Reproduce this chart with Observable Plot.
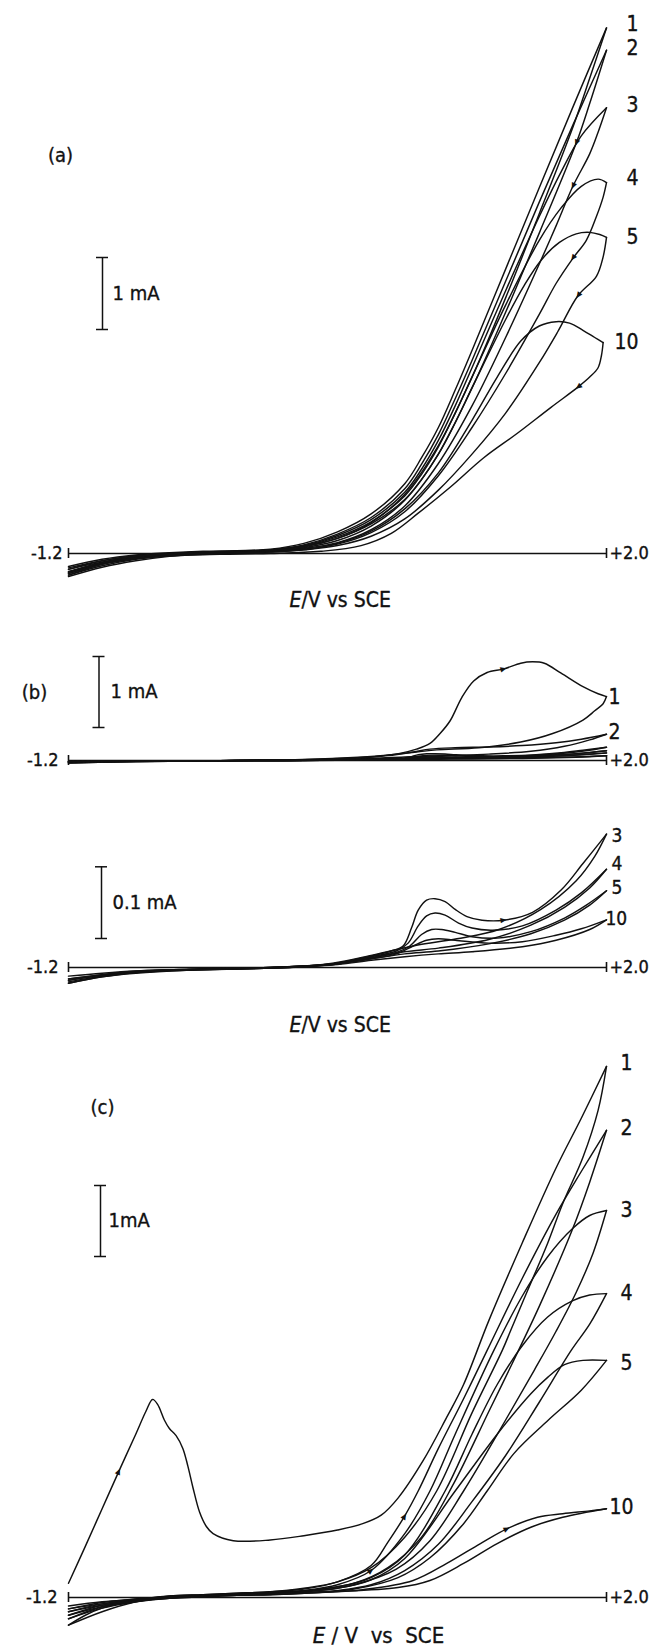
<!DOCTYPE html>
<html><head><meta charset="utf-8">
<script src="https://cdn.jsdelivr.net/npm/d3@7"></script>
<script src="https://cdn.jsdelivr.net/npm/@observablehq/plot@0.6"></script>
<style>
body{margin:0;background:#fff;}
#chart{width:652px;}
#chart svg{display:block;}
</style></head><body><div id="chart"></div>
<script>
// ---------- axis ----------
const E_MIN = -1.2, E_MAX = 2.0;
const axisTickLabels = ["-1.2", "+2.0"];
const axisTitleA = ["E", "/V vs SCE"];
const axisTitleC = ["E", " / V  vs  SCE"];

// ---------- panel (a): current / mA vs E / V ----------
const A_cycles = ["1","2","3","4","5","10"];
const A1_fwd = [[-1.2,-0.18],[-1.0,-0.08],[-0.8,-0.02],[-0.6,0.01],[-0.4,0.03],[-0.2,0.04],[0,0.06],[0.2,0.14],[0.4,0.3],[0.6,0.55],[0.8,0.97],[0.9,1.33],[1.0,1.75],[1.1,2.27],[1.2,2.82],[1.4,3.95],[1.6,5.08],[1.8,6.2],[2.0,7.3]];
const A1_rev = [[2.0,7.3],[1.9,6.6],[1.8,5.92],[1.6,4.72],[1.4,3.55],[1.2,2.45],[1.0,1.5],[0.8,0.82],[0.6,0.43],[0.4,0.21],[0.2,0.1],[0,0.05],[-0.2,0.03],[-0.4,0.01],[-0.6,-0.01],[-0.8,-0.05],[-1.0,-0.12],[-1.2,-0.22]];
const A2_fwd = [[-1.2,-0.22],[-1.0,-0.1],[-0.8,-0.03],[-0.6,0.0],[-0.4,0.02],[-0.2,0.03],[0,0.05],[0.2,0.12],[0.4,0.27],[0.6,0.5],[0.8,0.9],[0.9,1.24],[1.0,1.65],[1.1,2.15],[1.2,2.68],[1.4,3.78],[1.6,4.88],[1.8,5.95],[2.0,6.99]];
const A2_rev = [[2.0,6.99],[1.9,6.25],[1.82,5.7],[1.6,4.45],[1.4,3.35],[1.2,2.3],[1.0,1.38],[0.8,0.74],[0.6,0.38],[0.4,0.18],[0.2,0.08],[0,0.04],[-0.2,0.02],[-0.4,0.0],[-0.6,-0.02],[-0.8,-0.06],[-1.0,-0.14],[-1.2,-0.26]];
const A3_fwd = [[-1.2,-0.26],[-1.0,-0.12],[-0.8,-0.04],[-0.6,0.0],[-0.4,0.02],[-0.2,0.03],[0,0.05],[0.2,0.11],[0.4,0.25],[0.6,0.47],[0.8,0.85],[0.9,1.17],[1.0,1.57],[1.1,2.05],[1.2,2.58],[1.4,3.65],[1.6,4.68],[1.73,5.3],[1.85,5.8],[2.0,6.19]];
const A3_rev = [[2.0,6.19],[1.95,5.85],[1.9,5.55],[1.8,5.1],[1.7,4.55],[1.6,4.02],[1.4,3.0],[1.2,2.05],[1.0,1.25],[0.8,0.66],[0.6,0.33],[0.4,0.15],[0.2,0.07],[0,0.03],[-0.2,0.02],[-0.4,0.0],[-0.6,-0.02],[-0.8,-0.07],[-1.0,-0.15],[-1.2,-0.28]];
const A4_fwd = [[-1.2,-0.28],[-1.0,-0.13],[-0.8,-0.05],[-0.6,-0.01],[-0.4,0.02],[-0.2,0.03],[0,0.04],[0.2,0.1],[0.4,0.23],[0.6,0.44],[0.8,0.8],[0.9,1.1],[1.0,1.48],[1.1,1.95],[1.2,2.45],[1.4,3.45],[1.6,4.35],[1.73,4.8],[1.85,5.1],[1.95,5.2],[2.0,5.15]];
const A4_rev = [[2.0,5.15],[1.98,4.95],[1.94,4.68],[1.88,4.35],[1.8,4.1],[1.7,3.75],[1.6,3.32],[1.4,2.5],[1.2,1.75],[1.0,1.08],[0.8,0.58],[0.6,0.29],[0.4,0.13],[0.2,0.06],[0,0.03],[-0.2,0.01],[-0.4,0.0],[-0.6,-0.03],[-0.8,-0.08],[-1.0,-0.17],[-1.2,-0.3]];
const A5_fwd = [[-1.2,-0.3],[-1.0,-0.15],[-0.8,-0.06],[-0.6,-0.02],[-0.4,0.01],[-0.2,0.02],[0,0.04],[0.2,0.09],[0.4,0.21],[0.6,0.41],[0.8,0.75],[0.9,1.03],[1.0,1.38],[1.1,1.82],[1.2,2.3],[1.4,3.25],[1.51,3.72],[1.61,4.07],[1.72,4.32],[1.82,4.44],[1.9,4.46],[1.96,4.43],[2.0,4.39]];
const A5_rev = [[2.0,4.39],[1.98,4.12],[1.94,3.85],[1.83,3.58],[1.71,3.08],[1.6,2.65],[1.4,1.95],[1.2,1.38],[1.0,0.88],[0.8,0.48],[0.6,0.24],[0.4,0.11],[0.2,0.05],[0,0.02],[-0.2,0.01],[-0.4,-0.01],[-0.6,-0.04],[-0.8,-0.1],[-1.0,-0.19],[-1.2,-0.32]];
const A10_fwd = [[-1.2,-0.2],[-1.0,-0.1],[-0.8,-0.04],[-0.6,-0.01],[-0.4,0.0],[-0.2,0.01],[0,0.02],[0.2,0.05],[0.4,0.14],[0.6,0.31],[0.8,0.62],[1.0,1.12],[1.2,1.85],[1.35,2.45],[1.49,2.95],[1.6,3.16],[1.7,3.22],[1.78,3.2],[1.86,3.1],[1.93,3.0],[1.98,2.93]];
const A10_rev = [[1.98,2.93],[1.97,2.75],[1.95,2.58],[1.9,2.45],[1.83,2.31],[1.67,2.03],[1.47,1.67],[1.27,1.33],[1.07,0.92],[0.88,0.56],[0.72,0.28],[0.54,0.11],[0.3,0.03],[0,0.0],[-0.3,-0.01],[-0.6,-0.03],[-0.8,-0.07],[-1.0,-0.13],[-1.2,-0.25]];

// ---------- panel (b), upper trace (1 mA scale) ----------
const B_top_cycles = ["1","2"];
const B1_fwd = [[-1.2,-0.03],[-0.8,-0.015],[-0.4,-0.005],[0,0.005],[0.3,0.015],[0.5,0.03],[0.65,0.06],[0.77,0.1],[0.87,0.16],[0.95,0.24],[1.01,0.38],[1.07,0.56],[1.14,0.89],[1.21,1.12],[1.29,1.24],[1.39,1.29],[1.49,1.37],[1.56,1.39],[1.63,1.37],[1.73,1.23],[1.86,1.04],[1.95,0.94],[2.0,0.9]];
const B1_rev = [[2.0,0.9],[1.98,0.8],[1.93,0.7],[1.86,0.57],[1.68,0.38],[1.49,0.26],[1.24,0.18],[0.99,0.15],[0.87,0.12],[0.62,0.06],[0.37,0.03],[0,0.005],[-0.4,-0.005],[-0.8,-0.015],[-1.2,-0.035]];
const B2_fwd = [[-1.2,-0.035],[-0.8,-0.015],[-0.4,-0.005],[0,0.005],[0.4,0.025],[0.7,0.07],[0.85,0.12],[0.95,0.16],[1.1,0.18],[1.3,0.19],[1.5,0.21],[1.7,0.25],[1.85,0.3],[2.0,0.37]];
const B2_rev = [[2.0,0.37],[1.9,0.29],[1.75,0.2],[1.55,0.13],[1.3,0.09],[1.05,0.07],[0.8,0.05],[0.5,0.02],[0,0.0],[-0.6,-0.01],[-1.2,-0.025]];

// ---------- panel (b), lower trace (0.1 mA scale) ----------
const B_bottom_cycles = ["3","4","5","10"];
const B3_fwd = [[-1.2,-0.02],[-1.0,-0.012],[-0.8,-0.007],[-0.6,-0.004],[-0.4,-0.002],[-0.2,-0.001],[0,0.0],[0.2,0.002],[0.37,0.005],[0.5,0.011],[0.62,0.017],[0.72,0.023],[0.79,0.03],[0.84,0.055],[0.88,0.08],[0.93,0.094],[0.98,0.096],[1.04,0.092],[1.1,0.081],[1.17,0.071],[1.26,0.066],[1.39,0.066],[1.56,0.077],[1.73,0.108],[1.86,0.145],[2.0,0.186]];
const B3_rev = [[2.0,0.186],[1.93,0.155],[1.82,0.121],[1.61,0.081],[1.36,0.053],[1.11,0.04],[0.87,0.031],[0.62,0.018],[0.37,0.006],[0.1,0.0],[-0.2,-0.002],[-0.5,-0.004],[-0.8,-0.008],[-1.0,-0.013],[-1.2,-0.022]];
const B4_fwd = [[-1.2,-0.022],[-1.0,-0.013],[-0.8,-0.007],[-0.6,-0.004],[-0.4,-0.002],[-0.2,-0.001],[0,0.0],[0.2,0.002],[0.4,0.006],[0.6,0.015],[0.75,0.023],[0.82,0.034],[0.88,0.058],[0.93,0.072],[0.98,0.076],[1.04,0.073],[1.12,0.062],[1.2,0.055],[1.32,0.052],[1.5,0.058],[1.7,0.08],[1.85,0.104],[2.0,0.137]];
const B4_rev = [[2.0,0.137],[1.9,0.111],[1.75,0.084],[1.55,0.059],[1.3,0.039],[1.0,0.027],[0.8,0.022],[0.6,0.013],[0.4,0.005],[0.1,0.0],[-0.2,-0.002],[-0.5,-0.004],[-0.8,-0.007],[-1.0,-0.011],[-1.2,-0.018]];
const B5_fwd = [[-1.2,-0.018],[-1.0,-0.011],[-0.8,-0.006],[-0.6,-0.003],[-0.4,-0.002],[-0.2,-0.001],[0,0.0],[0.2,0.002],[0.4,0.006],[0.6,0.014],[0.75,0.021],[0.83,0.03],[0.9,0.046],[0.96,0.053],[1.02,0.053],[1.1,0.049],[1.2,0.043],[1.35,0.041],[1.55,0.05],[1.75,0.069],[1.88,0.087],[2.0,0.107]];
const B5_rev = [[2.0,0.107],[1.9,0.087],[1.75,0.066],[1.55,0.047],[1.3,0.033],[1.0,0.023],[0.8,0.019],[0.6,0.012],[0.4,0.005],[0.1,0.0],[-0.2,-0.002],[-0.5,-0.003],[-0.8,-0.006],[-1.0,-0.01],[-1.2,-0.016]];
const B10_fwd = [[-1.2,-0.016],[-1.0,-0.01],[-0.8,-0.005],[-0.6,-0.003],[-0.4,-0.002],[-0.2,-0.001],[0,0.0],[0.2,0.002],[0.4,0.005],[0.6,0.012],[0.75,0.019],[0.85,0.03],[0.93,0.038],[1.0,0.04],[1.1,0.038],[1.3,0.034],[1.5,0.036],[1.7,0.045],[1.85,0.054],[2.0,0.0665]];
const B10_rev = [[2.0,0.0665],[1.9,0.053],[1.7,0.038],[1.5,0.029],[1.2,0.022],[1.0,0.019],[0.8,0.015],[0.6,0.01],[0.4,0.004],[0.1,0.0],[-0.2,-0.002],[-0.5,-0.003],[-0.8,-0.005],[-1.0,-0.008],[-1.2,-0.012]];

// ---------- panel (c) ----------
const C_cycles = ["1","2","3","4","5","10"];
const C1_fwd = [[-1.2,0.2],[-1.1,0.72],[-1.0,1.25],[-0.9,1.78],[-0.8,2.3],[-0.74,2.62],[-0.7,2.79],[-0.67,2.72],[-0.63,2.5],[-0.6,2.38],[-0.56,2.28],[-0.52,2.1],[-0.49,1.85],[-0.46,1.55],[-0.42,1.2],[-0.38,1.0],[-0.34,0.9],[-0.22,0.8],[0,0.81],[0.2,0.87],[0.4,0.95],[0.55,1.04],[0.66,1.16],[0.76,1.4],[0.91,1.93],[1.05,2.54],[1.15,3.0],[1.3,3.9],[1.5,5.0],[1.7,6.05],[1.85,6.75],[2.0,7.48]];
const C1_rev = [[2.0,7.48],[1.95,6.86],[1.86,6.2],[1.74,5.55],[1.65,4.99],[1.53,4.32],[1.43,3.76],[1.38,3.48],[1.2,2.6],[0.99,1.5],[0.8,0.85],[0.6,0.42],[0.4,0.22],[0.2,0.13],[0,0.08],[-0.2,0.06],[-0.4,0.04],[-0.6,0.02],[-0.8,-0.06],[-1.0,-0.2],[-1.2,-0.39]];
const C2_fwd = [[-1.2,-0.39],[-1.1,-0.25],[-1.0,-0.15],[-0.8,-0.04],[-0.6,0.02],[-0.4,0.04],[-0.2,0.06],[0,0.08],[0.2,0.12],[0.4,0.22],[0.6,0.45],[0.7,0.78],[0.8,1.15],[0.88,1.5],[1.0,2.1],[1.15,2.8],[1.29,3.48],[1.5,4.5],[1.7,5.4],[1.85,6.0],[2.0,6.58]];
const C2_rev = [[2.0,6.58],[1.9,5.85],[1.8,5.2],[1.6,4.1],[1.44,3.3],[1.3,2.62],[1.09,1.6],[0.9,0.85],[0.7,0.42],[0.5,0.2],[0.3,0.12],[0.1,0.08],[-0.2,0.05],[-0.4,0.03],[-0.6,0.0],[-0.8,-0.06],[-1.0,-0.15],[-1.2,-0.3]];
const C3_fwd = [[-1.2,-0.3],[-1.0,-0.13],[-0.8,-0.04],[-0.6,0.01],[-0.4,0.03],[-0.2,0.05],[0,0.07],[0.2,0.1],[0.4,0.18],[0.6,0.38],[0.8,0.9],[0.95,1.5],[1.1,2.3],[1.33,3.48],[1.5,4.25],[1.65,4.8],[1.8,5.2],[1.9,5.38],[2.0,5.45]];
const C3_rev = [[2.0,5.45],[1.92,4.85],[1.82,4.3],[1.7,3.75],[1.57,3.2],[1.4,2.5],[1.15,1.5],[0.95,0.8],[0.75,0.4],[0.5,0.18],[0.3,0.1],[0,0.06],[-0.2,0.04],[-0.4,0.02],[-0.6,-0.01],[-0.8,-0.06],[-1.0,-0.13],[-1.2,-0.25]];
const C4_fwd = [[-1.2,-0.25],[-1.0,-0.11],[-0.8,-0.03],[-0.6,0.01],[-0.4,0.03],[-0.2,0.04],[0,0.06],[0.2,0.09],[0.4,0.15],[0.6,0.28],[0.8,0.6],[1.04,1.5],[1.2,2.3],[1.35,3.0],[1.5,3.55],[1.65,3.95],[1.8,4.18],[1.9,4.26],[2.0,4.28]];
const C4_rev = [[2.0,4.28],[1.9,3.85],[1.79,3.48],[1.6,2.75],[1.4,2.0],[1.2,1.35],[1.0,0.75],[0.8,0.38],[0.6,0.18],[0.4,0.1],[0.2,0.07],[0,0.05],[-0.2,0.03],[-0.4,0.01],[-0.6,-0.01],[-0.8,-0.05],[-1.0,-0.11],[-1.2,-0.2]];
const C5_fwd = [[-1.2,-0.2],[-1.0,-0.09],[-0.8,-0.02],[-0.6,0.01],[-0.4,0.03],[-0.2,0.04],[0,0.05],[0.2,0.08],[0.4,0.13],[0.6,0.25],[0.8,0.55],[1.1,1.5],[1.35,2.3],[1.55,2.87],[1.65,3.1],[1.75,3.28],[1.86,3.34],[2.0,3.34]];
const C5_rev = [[2.0,3.34],[1.85,2.92],[1.65,2.49],[1.45,2.03],[1.29,1.5],[1.15,1.04],[0.95,0.56],[0.76,0.28],[0.5,0.12],[0.2,0.06],[0,0.04],[-0.2,0.03],[-0.4,0.01],[-0.6,-0.01],[-0.8,-0.04],[-1.0,-0.09],[-1.2,-0.16]];
const C10_fwd = [[-1.2,-0.16],[-1.0,-0.07],[-0.8,-0.02],[-0.6,0.01],[-0.4,0.02],[-0.2,0.03],[0,0.04],[0.3,0.07],[0.55,0.11],[0.85,0.24],[1.05,0.48],[1.25,0.76],[1.41,0.97],[1.59,1.13],[1.74,1.18],[1.9,1.22],[2.0,1.25]];
const C10_rev = [[2.0,1.25],[1.74,1.13],[1.55,0.99],[1.35,0.76],[1.15,0.48],[0.95,0.24],[0.76,0.14],[0.36,0.08],[0,0.05],[-0.3,0.03],[-0.6,0.0],[-0.8,-0.03],[-1.0,-0.06],[-1.2,-0.12]];

// ---------- layout ----------
const INK = "#111";
const FONT = "'DejaVu Sans Condensed','DejaVu Sans',sans-serif";
const X0 = 68, X1 = 606;
const sx = (X1 - X0) / (E_MAX - E_MIN);
const ex = px => E_MIN + (px - X0) / sx;
const TXT = {fill: INK, stroke: INK, strokeWidth: 0.35};

const bTopSeries = [
  {name:"1", fwd:B1_fwd, rev:B1_rev},
  {name:"2", fwd:B2_fwd, rev:B2_rev},
  {name:"3", fwd:B3_fwd, rev:B3_rev, nolabel:true},
  {name:"4", fwd:B4_fwd, rev:B4_rev, nolabel:true},
  {name:"5", fwd:B5_fwd, rev:B5_rev, nolabel:true},
  {name:"10", fwd:B10_fwd, rev:B10_rev, nolabel:true}
];

const panels = [
  {height:620, y0:553, k:72,
   series: A_cycles.map((n,i)=>({name:n, fwd:[A1_fwd,A2_fwd,A3_fwd,A4_fwd,A5_fwd,A10_fwd][i], rev:[A1_rev,A2_rev,A3_rev,A4_rev,A5_rev,A10_rev][i]})),
   letter:"(a)", letterPos:[60,155],
   bar:{x:102, bottom:329, unit:1, text:"1 mA", textX:112},
   labelY:{"1":24,"2":48,"3":105,"4":178,"5":237,"10":342}, labelX:626, labelX2:614, labelSize:21,
   minLabelX:62, title:axisTitleA, titleX:345, titleY:600, titleSize:21,
   arrows:[{cycle:"2",branch:"rev",E:1.82},{cycle:"3",branch:"rev",E:1.8},{cycle:"4",branch:"rev",E:1.8},{cycle:"5",branch:"rev",E:1.83},{cycle:"10",branch:"rev",E:1.83}]},
  {height:180, y0:140, k:71,
   series: bTopSeries,
   letter:"(b)", letterPos:[34,72],
   bar:{x:98.5, bottom:107, unit:1, text:"1 mA", textX:110},
   labelY:{"1":77,"2":112}, labelX:608, labelX2:608, labelSize:21,
   minLabelX:58,
   arrows:[{cycle:"1",branch:"fwd",E:1.39}]},
  {height:247, y0:167, k:717,
   series: B_bottom_cycles.map((n,i)=>({name:n, fwd:[B3_fwd,B4_fwd,B5_fwd,B10_fwd][i], rev:[B3_rev,B4_rev,B5_rev,B10_rev][i]})),
   bar:{x:101, bottom:138, unit:0.1, text:"0.1 mA", textX:112},
   labelY:{"3":35,"4":63,"5":87,"10":118}, labelX:611, labelX2:605, labelSize:19,
   minLabelX:58, title:axisTitleA, titleX:345, titleY:225, titleSize:21,
   arrows:[{cycle:"3",branch:"fwd",E:1.39}]},
  {height:600, y0:550, k:71,
   series: C_cycles.map((n,i)=>({name:n, fwd:[C1_fwd,C2_fwd,C3_fwd,C4_fwd,C5_fwd,C10_fwd][i], rev:[C1_rev,C2_rev,C3_rev,C4_rev,C5_rev,C10_rev][i]})),
   letter:"(c)", letterPos:[102,60],
   bar:{x:100, bottom:209, unit:1, text:"1mA", textX:108},
   labelY:{"1":16,"2":81,"3":163,"4":246,"5":316,"10":460}, labelX:620, labelX2:609, labelSize:21,
   minLabelX:57, title:axisTitleC, titleX:371, titleY:588, titleSize:22,
   arrows:[{cycle:"1",branch:"fwd",E:-0.9},{cycle:"2",branch:"fwd",E:0.8},{cycle:"3",branch:"fwd",E:0.6},{cycle:"10",branch:"fwd",E:1.41}]}
];

function makePanel(p) {
  const iy = py => (p.y0 - py) / p.k;
  const rows = [];
  p.series.forEach(s => {
    s.fwd.forEach(([E, I]) => rows.push({E, I, id: s.name + "f"}));
    s.rev.forEach(([E, I]) => rows.push({E, I, id: s.name + "r"}));
  });
  const arrows = (p.arrows || []).map(a => {
    const s = p.series.find(d => d.name === a.cycle);
    const pts = s[a.branch];
    let i = 0, best = Infinity;
    pts.forEach(([E], j) => { const d = Math.abs(E - a.E); if (d < best) { best = d; i = j; } });
    const pr = pts[Math.max(i - 1, 0)], nx = pts[Math.min(i + 1, pts.length - 1)];
    const dx = (nx[0] - pr[0]) * sx, dy = -(nx[1] - pr[1]) * p.k;
    return {E: pts[i][0], I: pts[i][1], rot: Math.atan2(dx, -dy) * 180 / Math.PI};
  });
  const labels = p.series.filter(s => !s.nolabel).map(s => ({
    text: s.name, x: ex(s.name.length > 1 ? p.labelX2 : p.labelX), y: iy(p.labelY[s.name])
  }));
  const tick = 5 / p.k;
  const barE = ex(p.bar.x), barLo = iy(p.bar.bottom), barHi = barLo + p.bar.unit;
  const cap = 6 / sx;
  const marks = [
    Plot.ruleY([0], {x1: E_MIN, x2: E_MAX, stroke: INK, strokeWidth: 1.4}),
    Plot.ruleX([E_MIN, E_MAX], {y1: -tick, y2: tick, stroke: INK, strokeWidth: 1.6}),
    Plot.line(rows, {x: "E", y: "I", z: "id", curve: "catmull-rom", stroke: INK, strokeWidth: 1.45}),
    Plot.text(arrows, {x: "E", y: "I", text: () => "\u25B2", rotate: "rot", fontSize: 8, fill: INK}),
    Plot.text(labels, {x: "x", y: "y", text: "text", textAnchor: "start", fontSize: p.labelSize, ...TXT}),
    Plot.text([axisTickLabels[0]], {x: ex(p.minLabelX), y: 0, text: d => d, textAnchor: "end", fontSize: 18, ...TXT}),
    Plot.text([axisTickLabels[1]], {x: ex(609), y: 0, text: d => d, textAnchor: "start", fontSize: 18, ...TXT}),
    Plot.ruleX([barE], {y1: barLo, y2: barHi, stroke: INK, strokeWidth: 1.5}),
    Plot.ruleY([barLo, barHi], {x1: barE - cap, x2: barE + cap, stroke: INK, strokeWidth: 1.5}),
    Plot.text([p.bar.text], {x: ex(p.bar.textX), y: (barLo + barHi) / 2, text: d => d, textAnchor: "start", fontSize: 20, ...TXT})
  ];
  if (p.letter) marks.push(Plot.text([p.letter], {x: ex(p.letterPos[0]), y: iy(p.letterPos[1]), text: d => d, fontSize: 20, ...TXT}));
  if (p.title) {
    const split = ex(p.titleX - p.titleSize * 2.1);
    marks.push(Plot.text([p.title[0]], {x: split, y: iy(p.titleY), text: d => d, textAnchor: "end", fontStyle: "italic", fontSize: p.titleSize, ...TXT}));
    marks.push(Plot.text([p.title[1]], {x: split, y: iy(p.titleY), text: d => d, textAnchor: "start", fontSize: p.titleSize, ...TXT}));
  }
  return Plot.plot({
    width: 652, height: p.height,
    marginLeft: 0, marginRight: 0, marginTop: 0, marginBottom: 0,
    x: {domain: [E_MIN, E_MAX], range: [X0, X1], axis: null},
    y: {domain: [0, 1], range: [p.y0, p.y0 - p.k], axis: null},
    style: {fontFamily: FONT, background: "#fff", overflow: "visible"},
    marks
  });
}

const root = document.getElementById("chart");
panels.forEach(p => root.appendChild(makePanel(p)));
</script>
</body></html>
